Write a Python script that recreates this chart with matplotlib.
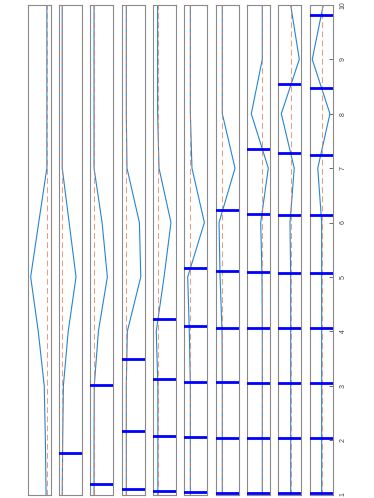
import matplotlib
matplotlib.use("Agg")
import matplotlib.pyplot as plt

# positions along the shared axis (vertical in this layout)
grid = [1, 2, 3, 4, 5, 6, 7, 8, 9, 10]

# blue curve values per panel (fraction of panel width)
curve_1 = [0.80, 0.77, 0.72, 0.46, 0.13, 0.48, 0.835, 0.835, 0.835, 0.835]
curve_2 = [0.14, 0.16, 0.19, 0.40, 0.74, 0.44, 0.14, 0.14, 0.14, 0.14]
curve_3 = [0.16, 0.16, 0.17, 0.35, 0.74, 0.51, 0.16, 0.16, 0.16, 0.16]
curve_4 = [0.20, 0.20, 0.20, 0.245, 0.83, 0.77, 0.23, 0.20, 0.20, 0.20]
curve_5 = [0.21, 0.21, 0.21, 0.14, 0.48, 0.78, 0.26, 0.20, 0.20, 0.20]
curve_6 = [0.26, 0.26, 0.26, 0.215, 0.145, 0.87, 0.33, 0.26, 0.26, 0.26]
curve_7 = [0.287, 0.287, 0.287, 0.275, 0.19, 0.145, 0.84, 0.287, 0.287, 0.287]
curve_8 = [0.663, 0.663, 0.663, 0.663, 0.65, 0.594, 0.925, 0.185, 0.663, 0.663]
curve_9 = [0.535, 0.535, 0.535, 0.535, 0.535, 0.505, 0.69, 0.127, 0.91, 0.535]
curve_10 = [0.52, 0.52, 0.52, 0.52, 0.52, 0.52, 0.35, 0.88, 0.11, 0.59]
curves = [curve_1, curve_2, curve_3, curve_4, curve_5,
          curve_6, curve_7, curve_8, curve_9, curve_10]

# dashed reference level per panel
reference = [0.84, 0.13, 0.15, 0.19, 0.20, 0.26, 0.287, 0.663, 0.535, 0.52]

# sampled positions (thick blue marks) per panel
samples = [
    [],
    [1.76],
    [1.19, 3.01],
    [1.10, 2.16, 3.50],
    [1.06, 2.08, 3.12, 4.22],
    [1.04, 2.06, 3.07, 4.10, 5.17],
    [1.03, 2.04, 3.06, 4.07, 5.11, 6.23],
    [1.03, 2.04, 3.05, 4.07, 5.09, 6.16, 7.35],
    [1.03, 2.04, 3.05, 4.07, 5.08, 6.14, 7.27, 8.55],
    [1.03, 2.04, 3.05, 4.07, 5.08, 6.13, 7.25, 8.48, 9.82],
]

tick_values = [1, 2, 3, 4, 5, 6, 7, 8, 9, 10]
tick_labels = ["1", "2", "3", "4", "5", "6", "7", "8", "9", "10"]

plt.rcParams["font.family"] = ["Liberation Sans", "DejaVu Sans"]

fig = plt.figure(figsize=(3.74, 4.98), dpi=100)
fig.subplots_adjust(left=0.074, right=0.8896, bottom=0.007, top=0.99, wspace=0.363)
axes = fig.subplots(1, 10)

for i, ax in enumerate(axes):
    ax.plot(curves[i], grid, color="#2585d3", lw=0.8, zorder=2)
    ax.axvline(reference[i], color="#ea7a4c", lw=0.75, ls=(0, (5.5, 3.3)),
               alpha=0.75, zorder=3)
    for s in samples[i]:
        ax.axhline(s, color="#0000FF", lw=2.0, zorder=4)
    ax.set_xlim(0, 1)
    ax.set_ylim(1, 10)
    for sp in ax.spines.values():
        sp.set_color("#8a8a8a")
        sp.set_linewidth(0.8)
    ax.set_xticks([])
    if i == len(axes) - 1:
        ax.yaxis.tick_right()
        ax.set_yticks(tick_values)
        ax.set_yticklabels(tick_labels, rotation=90, va="center", ha="left")
        ax.tick_params(axis="y", direction="in", length=2.6, width=0.6,
                       color="#555555", labelsize=5, labelcolor="#444444", pad=5)
    else:
        ax.set_yticks([])

fig.savefig("out.png", dpi=100)
